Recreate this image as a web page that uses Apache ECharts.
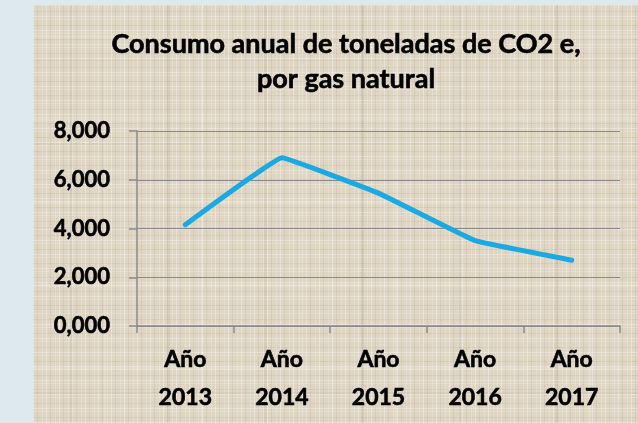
<!DOCTYPE html>
<html>
<head>
<meta charset="utf-8">
<style>
  body { margin: 0; }
  #wrap { position: relative; width: 638px; height: 423px; background: #dde9ec; overflow: hidden; }
  /* textura tipo arpillera del fondo */
  #panel {
    position: absolute; left: 33px; top: 5px; right: 0; bottom: 0;
    background-color: #ded5c2;
    background-image:
      repeating-linear-gradient(90deg, rgba(255,255,255,0.35) 0 1px, transparent 1px 4px, rgba(150,130,100,0.12) 4px 5px, transparent 5px 9px, rgba(255,255,255,0.2) 9px 10px, transparent 10px 13px),
      repeating-linear-gradient(0deg, rgba(255,255,255,0.3) 0 1px, transparent 1px 5px, rgba(150,130,100,0.12) 5px 6px, transparent 6px 11px, rgba(255,255,255,0.2) 11px 12px, transparent 12px 14px),
      repeating-linear-gradient(90deg, transparent 0 37px, rgba(140,120,90,0.10) 37px 40px, transparent 40px 71px, rgba(255,255,255,0.18) 71px 73px, transparent 73px 97px),
      repeating-linear-gradient(0deg, transparent 0 29px, rgba(140,120,90,0.10) 29px 31px, transparent 31px 53px, rgba(255,255,255,0.15) 53px 56px, transparent 56px 83px);
  }
  #chart { position: absolute; left: 0; top: 0; width: 638px; height: 423px; }
</style>
</head>
<body>
<div id="wrap">
  <div id="panel"></div>
  <div id="chart"></div>
</div>

<script src="https://cdn.jsdelivr.net/npm/echarts@6/dist/echarts.min.js"></script>
<script>
        var years = ['Año\n2013', 'Año\n2014', 'Año\n2015', 'Año\n2016', 'Año\n2017'];
        var consumo = [4.15, 6.9, 5.45, 3.5, 2.7];
        var yTicks = {min: 0, max: 8, interval: 2};

        var myChart = echarts.init(document.getElementById('chart'));
        var font = 'Lato, "Open Sans", sans-serif';

        var option = {
            backgroundColor: 'transparent',
            title: {
                text: 'Consumo anual de toneladas de CO2 e,\npor gas natural',
                left: 341,
                top: 22,
                textAlign: 'center',
                textStyle: {
                    fontFamily: font,
                    fontSize: 27,
                    fontWeight: 'bold',
                    color: '#000',
                    lineHeight: 35,
                    textBorderColor: '#000',
                    textBorderWidth: 0.6
                }
            },
            grid: {
                left: 137,
                right: 18,
                top: 131,
                bottom: 97
            },
            xAxis: {
                type: 'category',
                data: years,
                boundaryGap: true,
                axisLine: { lineStyle: { color: '#8a8a8a', width: 1.5 } },
                axisTick: { show: true, length: 7, lineStyle: { color: '#8a8a8a', width: 1.5 } },
                axisLabel: {
                    margin: 15,
                    color: '#000',
                    fontFamily: font,
                    fontSize: 23,
                    fontWeight: 'bold',
                    lineHeight: 38,
                    textBorderColor: '#000',
                    textBorderWidth: 0.6
                }
            },
            yAxis: {
                type: 'value',
                min: yTicks.min,
                max: yTicks.max,
                interval: yTicks.interval,
                axisLine: { show: true, lineStyle: { color: '#8a8a8a', width: 1.5 } },
                axisTick: { show: true, length: 8, lineStyle: { color: '#8a8a8a', width: 1.5 } },
                splitLine: { lineStyle: { color: '#8a8a8a', width: 1.2 } },
                axisLabel: {
                    margin: 27,
                    color: '#000',
                    fontFamily: font,
                    fontSize: 22,
                    fontWeight: 'bold',
                    textBorderColor: '#000',
                    textBorderWidth: 0.6,
                    formatter: function (v) {
                        return v.toFixed(3).replace('.', ',');
                    }
                }
            },
            series: [{
                type: 'line',
                data: consumo,
                smooth: 0.06,
                symbol: 'none',
                lineStyle: { color: '#1aa9e3', width: 5, cap: 'round', join: 'round' },
                animation: false
            }]
        };
        myChart.setOption(option);
</script>
</body>
</html>
